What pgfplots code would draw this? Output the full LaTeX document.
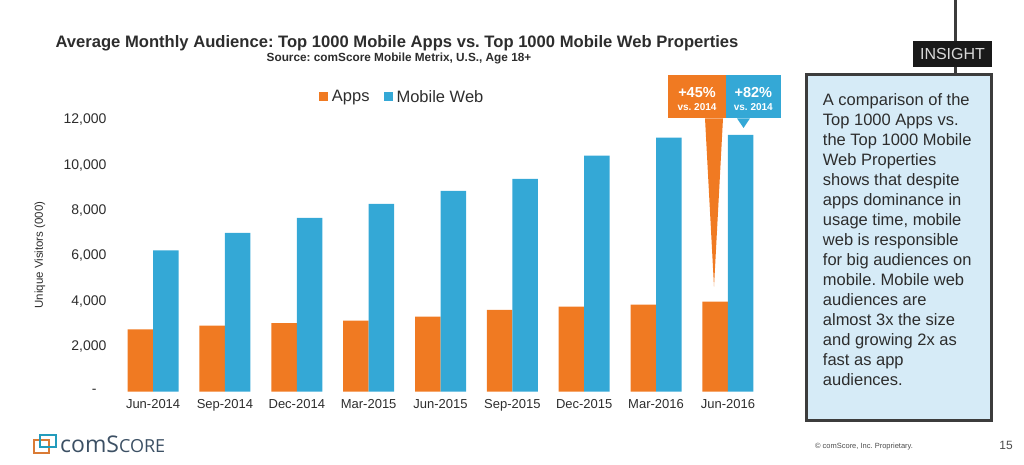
\documentclass[border=0pt]{standalone}
\usepackage{pgfplots}
\pgfplotsset{compat=1.18}
\usepackage{fontspec}
\setmainfont{Liberation Sans}
\newfontfamily\logofont{Open Sans}
\definecolor{apps}{RGB}{240,122,34}
\definecolor{web}{RGB}{52,168,214}
\definecolor{txt}{RGB}{45,45,45}
\definecolor{boxfill}{RGB}{214,235,247}
\definecolor{boxline}{RGB}{60,60,60}
\definecolor{logotxt}{RGB}{60,80,100}
\newcommand\fs[1]{\fontsize{#1}{#1}\selectfont}
\frenchspacing
\begin{document}
\begin{tikzpicture}
\useasboundingbox (0pt,0pt) rectangle (1024pt,465pt);
\begin{axis}[
  at={(110pt,73.3pt)}, anchor=south west,
  scale only axis, width=661pt, height=271.7pt,
  xmin=-0.6, xmax=8.6, ymin=0, ymax=12000,
  scaled y ticks=false,
  ybar=0pt, bar width=25.5pt,
  axis line style={draw=none}, major tick style={draw=none},
  xtick=data,
  xticklabels={Jun-2014,Sep-2014,Dec-2014,Mar-2015,Jun-2015,Sep-2015,Dec-2015,Mar-2016,Jun-2016},
  ytick={0,2000,4000,6000,8000,10000,12000},
  yticklabels={{-\rule{10pt}{0pt}},{2,000},{4,000},{6,000},{8,000},{10,000},{12,000}},
  /pgf/number format/assume math mode=true,
  xticklabel style={font=\fs{13}, text=txt},
  yticklabel style={font=\fs{14}, text=txt},
  clip=false,
  legend columns=2,
  legend style={at={(0.442,1.085)}, anchor=center, draw=none, fill=none,
    font=\fs{16.5}, text=txt,
    /tikz/every even column/.append style={column sep=12pt}},
  legend image code/.code={\fill[#1] (-1pt,-4pt) rectangle (8pt,5pt);},
]
\addplot[fill=apps, draw=none] coordinates {(0,2756) (1,2915) (2,3034) (3,3136) (4,3313) (5,3609) (6,3754) (7,3843) (8,3975)};
\addplot[fill=web, draw=none] coordinates {(0,6245) (1,7010) (2,7672) (3,8291) (4,8865) (5,9395) (6,10424) (7,11219) (8,11338)};
\legend{\hspace{2pt}Apps, \hspace{2pt}Mobile Web}
\end{axis}
\begin{scope}[x=1pt,y=1pt]
% titles
\node[font=\bfseries\fs{16.6}, text=txt] at (397,422) {Average Monthly Audience: Top 1000 Mobile Apps vs. Top 1000 Mobile Web Properties};
\node[font=\bfseries\fs{11.8}, text=txt] at (399,407) {Source: comScore Mobile Metrix, U.S., Age 18+};
% y label
\node[rotate=90, font=\fs{11.5}, text=txt] at (40,210) {Unique Visitors (000)};
% callouts
\fill[apps] (705,346.7) -- (723,346.7) -- (714,178.3) -- cycle;
\fill[apps] (667.7,346.7) rectangle (726,390);
\fill[web] (726,346.7) rectangle (780.7,390);
\fill[web] (737,346.7) -- (750,346.7) -- (743.5,337) -- cycle;
\node[text=white, font=\bfseries\fs{14.5}] at (697,372) {+45\%};
\node[text=white, font=\bfseries\fs{10}] at (697,358) {vs. 2014};
\node[text=white, font=\bfseries\fs{14.5}] at (753.3,372) {+82\%};
\node[text=white, font=\bfseries\fs{10}] at (753.3,358) {vs. 2014};
% insight box
\draw[boxline, line width=3pt] (955,465) -- (955,390);
\filldraw[fill=boxfill, draw=boxline, line width=3pt] (806.7,390) rectangle (991.7,44.3);
\fill[black!90] (913,424.3) rectangle (992,398.3);
\node[text=white!85!black, font=\fs{16}] at (952.5,411.3) {INSIGHT};
\node[anchor=north west, inner sep=0pt, align=left, text=txt, font=\fontsize{16.5}{20}\selectfont] at (822.7,372) {A comparison of the\\Top 1000 Apps vs.\\the Top 1000 Mobile\\Web Properties\\shows that despite\\apps dominance in\\usage time, mobile\\web is responsible\\for big audiences on\\mobile. Mobile web\\audiences are\\almost 3x the size\\and growing 2x as\\fast as app\\audiences.};
% footer
\draw[apps!80!gray, line width=1.6pt] (34,12) rectangle (49,25);
\draw[web!70!teal, line width=1.6pt] (40,18) rectangle (56,30);
\node[anchor=base west, text=logotxt, inner sep=0pt] at (60,12) {\logofont\fs{23}com\fs{23}S\fs{18}CORE};
\node[text=black!70, font=\fs{7.5}] at (864,18) {\textcopyright\ comScore, Inc. Proprietary.};
\node[text=black!70, font=\fs{12}] at (1006,20) {15};
\end{scope}
\end{tikzpicture}
\end{document}
